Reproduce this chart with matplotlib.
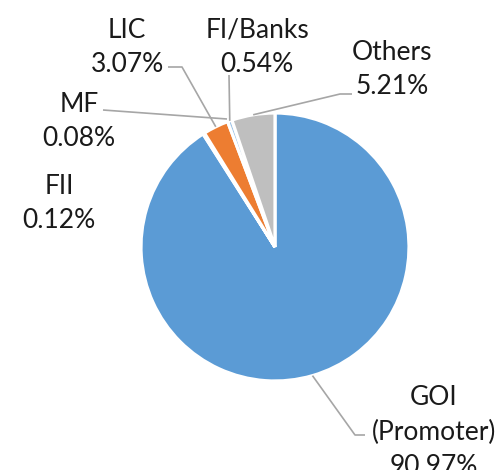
import numpy as np
import matplotlib
matplotlib.use("Agg")
import matplotlib.pyplot as plt

plt.rcParams['font.family'] = ['Lato', 'DejaVu Sans']

# shareholding pattern (%)
labels = ['GOI\n(Promoter)', 'FII', 'MF', 'LIC', 'FI/Banks', 'Others']
values = [90.97, 0.12, 0.08, 3.07, 0.54, 5.21]
colors = ['#5B9BD5', '#5B9BD5', '#ED7D31', '#ED7D31', '#9DC3E6', '#BFBFBF']

W, H = 504, 470
fig = plt.figure(figsize=(W / 100, H / 100), dpi=100)
ax = fig.add_axes([0, 0, 1, 1])

cx, cy, R = 275, H - 247, 134
wedges, _ = ax.pie(values, colors=colors, startangle=90, counterclock=False,
                   center=(cx, cy), radius=R, frame=True,
                   wedgeprops=dict(edgecolor='white', linewidth=2.3))
ax.set_xlim(0, W)
ax.set_ylim(0, H)
ax.set_aspect('equal')
ax.axis('off')

# label text centres (image px) and leader line elbows
text_pos = [(434, 432), (59, 203), (79, 122), (127, 47), (257, 47), (392, 70)]
elbows = [[(355, 435), (365, 435)], None, [(103, 110)],
          [(182, 67), (168, 67)], [(229, 75)], [(340, 94), (352, 94)]]

def edge_point(w, r=R):
    a = np.deg2rad((w.theta1 + w.theta2) / 2)
    return cx + r * np.cos(a), cy + r * np.sin(a)

for i, w in enumerate(wedges):
    tx, ty = text_pos[i]
    ax.text(tx, H - ty, f'{labels[i]}\n{values[i]:.2f}%', ha='center', va='center',
            fontsize=19, color='#1a1a1a', linespacing=1.45)
    if elbows[i] is None:
        continue
    if labels[i] == 'MF':
        start = (227, H - 119)
    else:
        start = edge_point(w)
    xs = [start[0]] + [p[0] for p in elbows[i]]
    ys = [start[1]] + [H - p[1] for p in elbows[i]]
    ax.plot(xs, ys, color='#A6A6A6', lw=1.2, solid_capstyle='butt')

fig.savefig('out.png', dpi=100)
